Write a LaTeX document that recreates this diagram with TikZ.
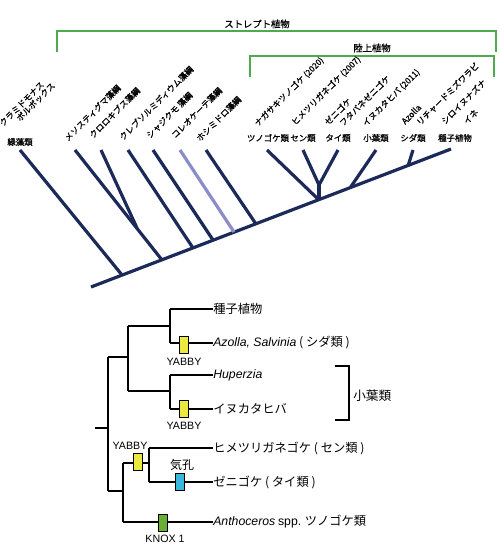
\documentclass[tikz,border=0pt]{standalone}
\usepackage{fontspec}
\setmainfont{Liberation Sans}
\newfontfamily\jp{Noto Sans CJK JP}
\newfontfamily\jpb[FakeBold=1]{Noto Sans CJK JP}
\definecolor{navy}{HTML}{1C2A5A}
\definecolor{lav}{HTML}{8C8CC8}
\definecolor{grn}{HTML}{4DAA4D}
\definecolor{yel}{HTML}{EDE840}
\definecolor{cyn}{HTML}{3AB8DC}
\definecolor{knox}{HTML}{6AAE34}
\begin{document}
\begin{tikzpicture}[x=0.75pt,y=-0.75pt,
  tree/.style={draw=navy,line width=2.4pt},
  ltree/.style={draw=lav,line width=2.4pt},
  brk/.style={draw=grn,line width=1.1pt},
  lbl/.style={font=\jpb\fontsize{6.3}{7}\selectfont,inner sep=0pt},
  rlbl/.style={lbl,rotate=45,anchor=base west},
  blbl/.style={font=\jpb\fontsize{7}{8}\selectfont,inner sep=0pt},
  clad/.style={draw=black,line width=1.1pt},
  txt/.style={font=\jp\fontsize{9.2}{11}\selectfont,inner sep=0pt,anchor=west},
  gname/.style={font=\fontsize{8}{9}\selectfont,inner sep=0pt},
  gene/.style={draw=black,line width=0.5pt,minimum width=6.5pt,minimum height=13pt,inner sep=0pt}]
\useasboundingbox (0,0) rectangle (500,560);

% ---------- green brackets ----------
\draw[brk] (57,52) -- (57,31) -- (496,31) -- (496,52);
\node[blbl] (strep) at (257,24) {ストレプト植物};
\draw[brk] (250,77) -- (250,56) -- (494,56) -- (494,77);
\node[blbl] (land) at (372,48) {陸上植物};

% ---------- upper tree ----------
\coordinate (root) at (91,287);
\coordinate (end) at (451,149);
\coordinate (j1) at (122,275);
\coordinate (j2) at (162,260);
\coordinate (j2b) at (137,228);
\coordinate (j3) at (193,248);
\coordinate (j4) at (213,240);
\coordinate (j5) at (234,232);
\coordinate (j6) at (256,224);
\coordinate (j7) at (319,200);
\coordinate (j7b) at (319,185);
\coordinate (j8) at (350,188);
\coordinate (j9) at (408,166);
\coordinate (t1) at (20,150);
\coordinate (t2) at (75,150);
\coordinate (t3) at (101,150);
\coordinate (t4) at (128,150);
\coordinate (t5) at (153,150);
\coordinate (t6) at (180,150);
\coordinate (t7) at (206,150);
\coordinate (t8) at (267,150);
\coordinate (t9) at (303,150);
\coordinate (t10) at (338,150);
\coordinate (t11) at (376,150);
\coordinate (t12) at (413,150);

\draw[tree] (root) -- (end);
\draw[tree] (t1) -- (j1);
\draw[tree] (t2) -- (j2);
\draw[tree] (t3) -- (j2b);
\draw[tree] (t4) -- (j3);
\draw[tree] (t5) -- (j4);
\draw[ltree] (t6) -- (j5);
\draw[tree] (t7) -- (j6);
\draw[tree] (t8) -- (j7);
\draw[tree] (t9) -- (j7b);
\draw[tree] (t10) -- (j7b);
\draw[tree] (j7b) -- (j7);
\draw[tree] (t11) -- (j8);
\draw[tree] (t12) -- (j9);

% row labels
\node[lbl] (l1) at (20,142) {緑藻類};
\node[lbl] (l8) at (268,138) {ツノゴケ類};
\node[lbl] (l9) at (303,138) {セン類};
\node[lbl] (l10) at (338,138) {タイ類};
\node[lbl] (l11) at (376,138) {小葉類};
\node[lbl] (l12) at (413,138) {シダ類};
\node[lbl] (l13) at (455,138) {種子植物};

% rotated labels
\node[rlbl] (r1) at (3,127) {クラミドモナス};
\node[rlbl] (r2) at (20,122) {ボルボックス};
\node[rlbl] (r3) at (68,142) {メソスティグマ藻綱};
\node[rlbl] (r4) at (93,139) {クロロキブス藻綱};
\node[rlbl] (r5) at (123,141) {クレブソルミディウム藻綱};
\node[rlbl] (r6) at (150,139) {シャジクモ 藻綱};
\node[rlbl] (r7) at (175,139) {コレオケーテ藻綱};
\node[rlbl] (r8) at (200,142) {ホシミドロ藻綱};
\node[rlbl] (r9) at (258,127) {ナガサキツノゴケ (2020)};
\node[rlbl] (r10) at (295,126) {ヒメツリガネゴケ (2007)};
\node[rlbl] (r11) at (328,126) {ゼニゴケ};
\node[rlbl] (r12) at (343,127) {フタバネゼニゴケ};
\node[rlbl] (r13) at (366,127) {イヌカタヒバ (2011)};
\node[rlbl] (r14) at (405,125) {Azolla};
\node[rlbl] (r15) at (420,126) {リチャードミズワラビ};
\node[rlbl] (r16) at (445,125) {シロイヌナズナ};
\node[rlbl] (r17) at (467,125) {イネ};

% ---------- lower cladogram ----------
\node[txt] (seed) at (213,309) {種子植物};
\node[txt] (azolla) at (213,343) {{\fontspec{Liberation Sans}\itshape Azolla, Salvinia} ( シダ類 )};
\node[txt] (hup) at (213,375) {{\fontspec{Liberation Sans}\itshape Huperzia}};
\node[txt] (inu) at (213,409) {イヌカタヒバ};
\node[txt] (hime) at (213,448) {ヒメツリガネゴケ ( セン類 )};
\node[txt] (zeni) at (213,482) {ゼニゴケ ( タイ類 )};
\node[txt] (antho) at (213,522) {{\fontspec{Liberation Sans}\itshape Anthoceros} {\fontspec{Liberation Sans}spp.} ツノゴケ類};

\coordinate (rt) at (95,428);
\coordinate (a) at (108,428);
\coordinate (a1) at (108,357);
\coordinate (a2) at (108,491);
\coordinate (b) at (128,357);
\coordinate (b1) at (128,326);
\coordinate (b2) at (128,391);
\coordinate (c) at (170,326);
\coordinate (c1) at (170,309);
\coordinate (c2) at (170,343);
\coordinate (d) at (170,391);
\coordinate (d1) at (170,375);
\coordinate (d2) at (170,409);
\coordinate (e) at (123,491);
\coordinate (e1) at (123,463);
\coordinate (e2) at (123,522);
\coordinate (f) at (149,463);
\coordinate (f1) at (149,448);
\coordinate (f2) at (149,482);

\draw[clad] (rt) -- (a);
\draw[clad] (a1) -- (a2);
\draw[clad] (a1) -- (b);
\draw[clad] (b1) -- (b2);
\draw[clad] (b1) -- (c);
\draw[clad] (c1) -- (c2);
\draw[clad] (c1) -- (seed.west);
\draw[clad] (c2) -- (azolla.west);
\draw[clad] (b2) -- (d);
\draw[clad] (d1) -- (d2);
\draw[clad] (d1) -- (hup.west);
\draw[clad] (d2) -- (inu.west);
\draw[clad] (a2) -- (e);
\draw[clad] (e1) -- (e2);
\draw[clad] (e1) -- (f);
\draw[clad] (f1) -- (f2);
\draw[clad] (f1) -- (hime.west);
\draw[clad] (f2) -- (zeni.west);
\draw[clad] (e2) -- (antho.west);

% bracket for 小葉類
\coordinate (k1) at (335,366);
\coordinate (k2) at (349,366);
\coordinate (k3) at (349,420);
\coordinate (k4) at (335,420);
\draw[clad] (k1) -- (k2) -- (k3) -- (k4);
\node[font=\jp\fontsize{9.5}{11}\selectfont,inner sep=0pt,anchor=west] (micro) at (353,396) {小葉類};

% gene boxes
\node[gene,fill=yel] (y1) at (184,345) {};
\node[gene,fill=yel] (y2) at (184,409) {};
\node[gene,fill=yel] (y3) at (137.5,462) {};
\node[gene,fill=cyn] (s1) at (179.5,482) {};
\node[gene,fill=knox] (k) at (162.5,523) {};
\node[gname] (y1l) at (184,362) {YABBY};
\node[gname] (y2l) at (184,426) {YABBY};
\node[gname] (y3l) at (130,446) {YABBY};
\node[font=\jp\fontsize{9}{10}\selectfont,inner sep=0pt] (stoma) at (182,465) {気孔};
\node[gname] (kl) at (165,539) {KNOX 1};
\end{tikzpicture}
\end{document}
